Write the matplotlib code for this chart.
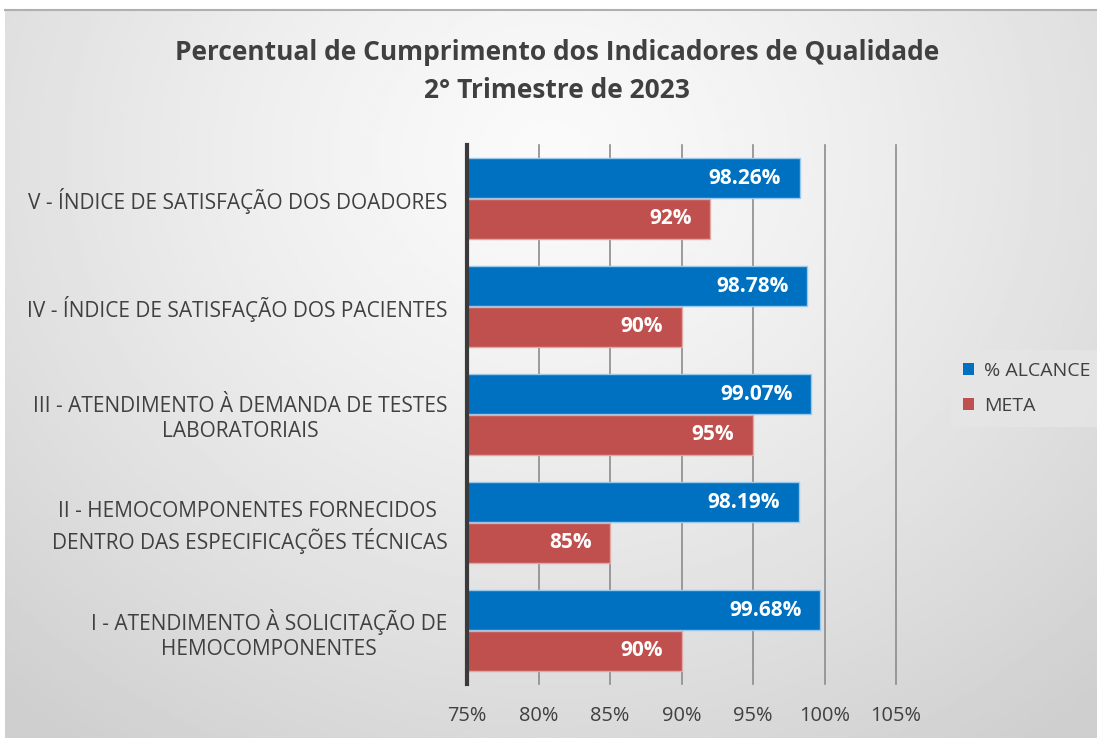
import numpy as np
import matplotlib.pyplot as plt
from matplotlib.patches import Patch

categories = [
    "I - ATENDIMENTO À SOLICITAÇÃO DE\nHEMOCOMPONENTES",
    "II - HEMOCOMPONENTES FORNECIDOS \nDENTRO DAS ESPECIFICAÇÕES TÉCNICAS",
    "III - ATENDIMENTO À DEMANDA DE TESTES\nLABORATORIAIS",
    "IV - ÍNDICE DE SATISFAÇÃO DOS PACIENTES",
    "V - ÍNDICE DE SATISFAÇÃO DOS DOADORES",
]
alcance = [99.68, 98.19, 99.07, 98.78, 98.26]
meta = [90, 85, 95, 90, 92]
xticks = [75, 80, 85, 90, 95, 100, 105]

BLUE = "#0070C0"
RED = "#C0504D"
TXT = "#404040"

plt.rcParams["font.family"] = ["Open Sans", "DejaVu Sans"]

fig = plt.figure(figsize=(10.97, 7.38), dpi=100)

# fundo cinza com gradiente radial (mais claro no alto, ao centro)
bg = fig.add_axes([5 / 1097, 0, 1 - 5 / 1097, 1 - 10 / 738], zorder=-10)
yy, xx = np.mgrid[0:1:300j, 0:1:300j]
r = np.clip(np.sqrt(((xx - 0.5) / 0.75) ** 2 + ((yy - 0.2) / 1.0) ** 2), 0, 1)
bg.imshow(0.98 - 0.17 * r**1.3, cmap="gray", vmin=0, vmax=1, aspect="auto",
          extent=[0, 1, 1, 0])
bg.set_axis_off()
fig.add_artist(plt.Line2D([5 / 1097, 1], [1 - 10 / 738] * 2, color="#b0b0b0", lw=1.5))

ax = fig.add_axes([467 / 1097, 1 - 684 / 738, (896 - 467) / 1097, (684 - 145) / 738])
ax.set_facecolor("none")

y = np.arange(len(categories))
h = 0.37
ax.barh(y + h / 2 + 0.005, [a - 75 for a in alcance], left=75, height=h,
        color=BLUE, edgecolor="#9cc8ea", linewidth=1, zorder=3)
ax.barh(y - h / 2 - 0.005, [m - 75 for m in meta], left=75, height=h,
        color=RED, edgecolor="#e0a8a6", linewidth=1, zorder=3)

for yi, a in zip(y, alcance):
    ax.text(a - 1.3, yi + h / 2, f"{a:.2f}%", ha="right", va="center",
            color="white", fontsize=15, fontweight="bold", zorder=4)
for yi, m in zip(y, meta):
    ax.text(m - 1.3, yi - h / 2, f"{m}%", ha="right", va="center",
            color="white", fontsize=15, fontweight="bold", zorder=4)

ax.set_xlim(75, 105)
ax.set_ylim(-0.5, len(categories) - 0.5)
ax.set_xticks(xticks)
ax.set_xticklabels([f"{t}%" for t in xticks], fontsize=14.4, color=TXT)
ax.set_yticks(y)
ax.set_yticklabels(categories, fontsize=15, color=TXT, multialignment="center",
                   linespacing=1.25)
ax.tick_params(axis="x", length=0, pad=16)
ax.tick_params(axis="y", length=0, pad=14)
for t in xticks[1:]:
    ax.axvline(t, color="#8c8c8c", lw=1.2, zorder=1, clip_on=False)
for s in ["top", "right", "bottom"]:
    ax.spines[s].set_visible(False)
ax.spines["left"].set_color("#3a3a3a")
ax.spines["left"].set_linewidth(3)
ax.spines["left"].set_zorder(5)

fig.text(557 / 1097, 1 - 52 / 738, "Percentual de Cumprimento dos Indicadores de Qualidade",
         ha="center", va="center", fontsize=19, fontweight="bold", color=TXT)
fig.text(557 / 1097, 1 - 90 / 738, "2° Trimestre de 2023",
         ha="center", va="center", fontsize=19, fontweight="bold", color=TXT)

handles = [Patch(facecolor=BLUE, label="% ALCANCE"), Patch(facecolor=RED, label="META")]
leg = fig.legend(handles=handles, loc="upper left", bbox_to_anchor=(951 / 1097, 1 - 350 / 738),
                 fontsize=14, frameon=True, fancybox=False, handlelength=0.6,
                 handleheight=0.6, handletextpad=0.5, labelcolor=TXT, borderpad=0.6,
                 borderaxespad=0, labelspacing=0.9)
leg.get_frame().set_facecolor("#e6e6e6")
leg.get_frame().set_edgecolor("none")

fig.savefig("out.png", dpi=100)
